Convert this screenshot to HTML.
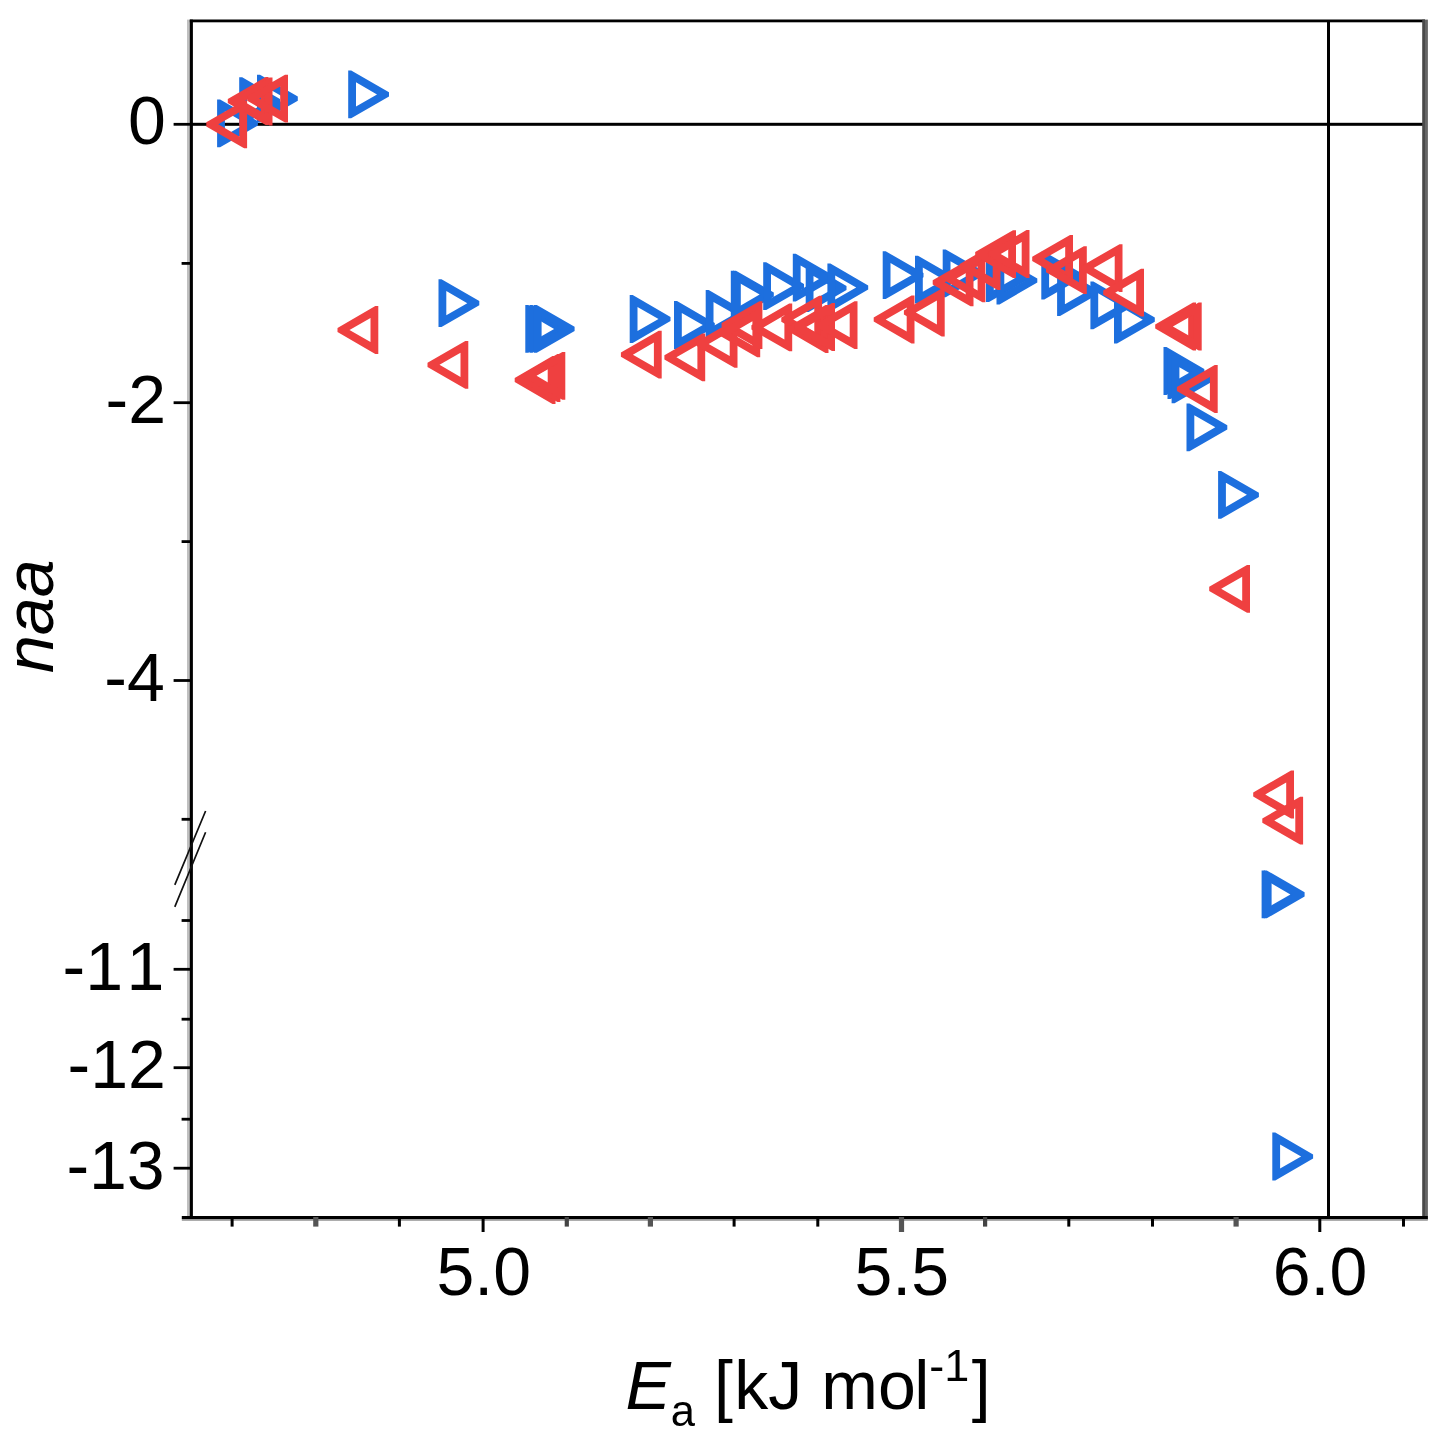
<!DOCTYPE html>
<html><head><meta charset="utf-8"><title>plot</title>
<style>html,body{margin:0;padding:0;background:#fff}svg{display:block}</style></head>
<body>
<svg width="1452" height="1438" viewBox="0 0 1452 1438">
<rect width="1452" height="1438" fill="#fff"/>
<defs><filter id="soft" x="0" y="0" width="100%" height="100%" filterUnits="userSpaceOnUse" color-interpolation-filters="sRGB"><feGaussianBlur stdDeviation="0.7"/></filter></defs>
<g filter="url(#soft)">
<rect width="1452" height="1438" fill="#fff"/>
<rect x="190" y="122.8" width="1234" height="3" fill="#000"/>
<rect x="1327" y="21" width="3" height="1197" fill="#000"/>
<g fill="#1d6fde" fill-rule="evenodd">
<path d="M217.1 99.5L220.1 99.5L257.9 121.3L257.9 125.5L220.1 147.3L217.1 147.3ZM224.9 111.3L245.9 123.4L224.9 135.5Z"/>
<path d="M239.2 77.3L242.2 77.3L280.0 99.1L280.0 103.3L242.2 125.1L239.2 125.1ZM247.0 89.1L268.0 101.2L247.0 113.3Z"/>
<path d="M257.0 74.7L260.0 74.7L297.8 96.5L297.8 100.7L260.0 122.5L257.0 122.5ZM264.8 86.5L285.8 98.6L264.8 110.7Z"/>
<path d="M348.2 70.5L351.2 70.5L389.0 92.3L389.0 96.5L351.2 118.3L348.2 118.3ZM356.0 82.3L377.0 94.4L356.0 106.5Z"/>
<path d="M438.5 279.3L441.5 279.3L479.3 301.1L479.3 305.3L441.5 327.1L438.5 327.1ZM446.3 291.1L467.3 303.2L446.3 315.3Z"/>
<path d="M525.3 305.0L528.3 305.0L566.1 326.8L566.1 331.0L528.3 352.8L525.3 352.8ZM533.1 316.8L554.1 328.9L533.1 341.0Z"/>
<path d="M529.5 305.0L532.5 305.0L570.3 326.8L570.3 331.0L532.5 352.8L529.5 352.8ZM537.3 316.8L558.3 328.9L537.3 341.0Z"/>
<path d="M533.8 305.0L536.8 305.0L574.6 326.8L574.6 331.0L536.8 352.8L533.8 352.8ZM541.6 316.8L562.6 328.9L541.6 341.0Z"/>
<path d="M629.7 295.1L632.7 295.1L670.5 316.9L670.5 321.1L632.7 342.9L629.7 342.9ZM637.5 306.9L658.5 319.0L637.5 331.1Z"/>
<path d="M674.0 301.1L677.0 301.1L714.8 322.9L714.8 327.1L677.0 348.9L674.0 348.9ZM681.8 312.9L702.8 325.0L681.8 337.1Z"/>
<path d="M705.7 290.1L708.7 290.1L746.5 311.9L746.5 316.1L708.7 337.9L705.7 337.9ZM713.5 301.9L734.5 314.0L713.5 326.1Z"/>
<path d="M730.8 270.7L733.8 270.7L771.6 292.5L771.6 296.7L733.8 318.5L730.8 318.5ZM738.6 282.5L759.6 294.6L738.6 306.7Z"/>
<path d="M733.0 270.7L736.0 270.7L773.8 292.5L773.8 296.7L736.0 318.5L733.0 318.5ZM740.8 282.5L761.8 294.6L740.8 306.7Z"/>
<path d="M763.2 262.3L766.2 262.3L804.0 284.1L804.0 288.3L766.2 310.1L763.2 310.1ZM771.0 274.1L792.0 286.2L771.0 298.3Z"/>
<path d="M792.8 253.7L795.8 253.7L833.6 275.5L833.6 279.7L795.8 301.5L792.8 301.5ZM800.6 265.5L821.6 277.6L800.6 289.7Z"/>
<path d="M805.7 264.1L808.7 264.1L846.5 285.9L846.5 290.1L808.7 311.9L805.7 311.9ZM813.5 275.9L834.5 288.0L813.5 300.1Z"/>
<path d="M827.4 263.6L830.4 263.6L868.2 285.4L868.2 289.6L830.4 311.4L827.4 311.4ZM835.2 275.4L856.2 287.5L835.2 299.6Z"/>
<path d="M882.7 251.3L885.7 251.3L923.5 273.1L923.5 277.3L885.7 299.1L882.7 299.1ZM890.5 263.1L911.5 275.2L890.5 287.3Z"/>
<path d="M915.0 255.8L918.0 255.8L955.8 277.6L955.8 281.8L918.0 303.6L915.0 303.6ZM922.8 267.6L943.8 279.7L922.8 291.8Z"/>
<path d="M942.7 249.4L945.7 249.4L983.5 271.2L983.5 275.4L945.7 297.2L942.7 297.2ZM950.5 261.2L971.5 273.3L950.5 285.4Z"/>
<path d="M986.0 254.3L989.0 254.3L1026.8 276.1L1026.8 280.3L989.0 302.1L986.0 302.1ZM993.8 266.1L1014.8 278.2L993.8 290.3Z"/>
<path d="M996.5 256.6L999.5 256.6L1037.3 278.4L1037.3 282.6L999.5 304.4L996.5 304.4ZM1004.3 268.4L1025.3 280.5L1004.3 292.6Z"/>
<path d="M1041.3 251.7L1044.3 251.7L1082.1 273.5L1082.1 277.7L1044.3 299.5L1041.3 299.5ZM1049.1 263.5L1070.1 275.6L1049.1 287.7Z"/>
<path d="M1057.1 268.3L1060.1 268.3L1097.9 290.1L1097.9 294.3L1060.1 316.1L1057.1 316.1ZM1064.9 280.1L1085.9 292.2L1064.9 304.3Z"/>
<path d="M1090.4 281.5L1093.4 281.5L1131.2 303.3L1131.2 307.5L1093.4 329.3L1090.4 329.3ZM1098.2 293.3L1119.2 305.4L1098.2 317.5Z"/>
<path d="M1114.0 295.8L1117.0 295.8L1154.8 317.6L1154.8 321.8L1117.0 343.6L1114.0 343.6ZM1121.8 307.6L1142.8 319.7L1121.8 331.8Z"/>
<path d="M1163.5 347.1L1166.5 347.1L1204.3 368.9L1204.3 373.1L1166.5 394.9L1163.5 394.9ZM1171.3 358.9L1192.3 371.0L1171.3 383.1Z"/>
<path d="M1167.5 351.3L1170.5 351.3L1208.3 373.1L1208.3 377.3L1170.5 399.1L1167.5 399.1ZM1175.3 363.1L1196.3 375.2L1175.3 387.3Z"/>
<path d="M1171.6 355.5L1174.6 355.5L1212.4 377.3L1212.4 381.5L1174.6 403.3L1171.6 403.3ZM1179.4 367.3L1200.4 379.4L1179.4 391.5Z"/>
<path d="M1186.5 403.4L1189.5 403.4L1227.3 425.2L1227.3 429.4L1189.5 451.2L1186.5 451.2ZM1194.3 415.2L1215.3 427.3L1194.3 439.4Z"/>
<path d="M1218.1 470.9L1221.1 470.9L1258.9 492.7L1258.9 496.9L1221.1 518.7L1218.1 518.7ZM1225.9 482.7L1246.9 494.8L1225.9 506.9Z"/>
<path d="M1261.6 870.5L1264.6 870.5L1302.4 892.3L1302.4 896.5L1264.6 918.3L1261.6 918.3ZM1269.4 882.3L1290.4 894.4L1269.4 906.5Z"/>
<path d="M1263.8 870.5L1266.8 870.5L1304.6 892.3L1304.6 896.5L1266.8 918.3L1263.8 918.3ZM1271.6 882.3L1292.6 894.4L1271.6 906.5Z"/>
<path d="M1272.3 1132.6L1275.3 1132.6L1313.1 1154.4L1313.1 1158.6L1275.3 1180.4L1272.3 1180.4ZM1280.1 1144.4L1301.1 1156.5L1280.1 1168.6Z"/>
</g>
<g fill="#ef4040" fill-rule="evenodd">
<path d="M247.1 100.4L244.1 100.4L206.3 122.2L206.3 126.4L244.1 148.2L247.1 148.2ZM239.3 112.2L218.3 124.3L239.3 136.4Z"/>
<path d="M268.6 77.1L265.6 77.1L227.8 98.9L227.8 103.1L265.6 124.9L268.6 124.9ZM260.8 88.9L239.8 101.0L260.8 113.1Z"/>
<path d="M272.5 77.6L269.5 77.6L231.7 99.4L231.7 103.6L269.5 125.4L272.5 125.4ZM264.7 89.4L243.7 101.5L264.7 113.6Z"/>
<path d="M288.0 74.7L285.0 74.7L247.2 96.5L247.2 100.7L285.0 122.5L288.0 122.5ZM280.2 86.5L259.2 98.6L280.2 110.7Z"/>
<path d="M378.3 306.1L375.3 306.1L337.5 327.9L337.5 332.1L375.3 353.9L378.3 353.9ZM370.5 317.9L349.5 330.0L370.5 342.1Z"/>
<path d="M468.3 340.9L465.3 340.9L427.5 362.7L427.5 366.9L465.3 388.7L468.3 388.7ZM460.5 352.7L439.5 364.8L460.5 376.9Z"/>
<path d="M555.5 356.1L552.5 356.1L514.7 377.9L514.7 382.1L552.5 403.9L555.5 403.9ZM547.7 367.9L526.7 380.0L547.7 392.1Z"/>
<path d="M560.4 354.1L557.4 354.1L519.6 375.9L519.6 380.1L557.4 401.9L560.4 401.9ZM552.6 365.9L531.6 378.0L552.6 390.1Z"/>
<path d="M565.3 351.9L562.3 351.9L524.5 373.7L524.5 377.9L562.3 399.7L565.3 399.7ZM557.5 363.7L536.5 375.8L557.5 387.9Z"/>
<path d="M661.7 330.8L658.7 330.8L620.9 352.6L620.9 356.8L658.7 378.6L661.7 378.6ZM653.9 342.6L632.9 354.7L653.9 366.8Z"/>
<path d="M705.2 333.4L702.2 333.4L664.4 355.2L664.4 359.4L702.2 381.2L705.2 381.2ZM697.4 345.2L676.4 357.3L697.4 369.4Z"/>
<path d="M737.5 320.0L734.5 320.0L696.7 341.8L696.7 346.0L734.5 367.8L737.5 367.8ZM729.7 331.8L708.7 343.9L729.7 356.0Z"/>
<path d="M762.4 301.2L759.4 301.2L721.6 323.0L721.6 327.2L759.4 349.0L762.4 349.0ZM754.6 313.0L733.6 325.1L754.6 337.2Z"/>
<path d="M760.2 309.5L757.2 309.5L719.4 331.3L719.4 335.5L757.2 357.3L760.2 357.3ZM752.4 321.3L731.4 333.4L752.4 345.5Z"/>
<path d="M792.2 303.5L789.2 303.5L751.4 325.3L751.4 329.5L789.2 351.3L792.2 351.3ZM784.4 315.3L763.4 327.4L784.4 339.5Z"/>
<path d="M822.1 295.7L819.1 295.7L781.3 317.5L781.3 321.7L819.1 343.5L822.1 343.5ZM814.3 307.5L793.3 319.6L814.3 331.7Z"/>
<path d="M828.5 305.1L825.5 305.1L787.7 326.9L787.7 331.1L825.5 352.9L828.5 352.9ZM820.7 316.9L799.7 329.0L820.7 341.1Z"/>
<path d="M835.0 303.1L832.0 303.1L794.2 324.9L794.2 329.1L832.0 350.9L835.0 350.9ZM827.2 314.9L806.2 327.0L827.2 339.1Z"/>
<path d="M857.5 301.3L854.5 301.3L816.7 323.1L816.7 327.3L854.5 349.1L857.5 349.1ZM849.7 313.1L828.7 325.2L849.7 337.3Z"/>
<path d="M914.5 295.6L911.5 295.6L873.7 317.4L873.7 321.6L911.5 343.4L914.5 343.4ZM906.7 307.4L885.7 319.5L906.7 331.6Z"/>
<path d="M944.7 288.6L941.7 288.6L903.9 310.4L903.9 314.6L941.7 336.4L944.7 336.4ZM936.9 300.4L915.9 312.5L936.9 324.6Z"/>
<path d="M973.5 258.4L970.5 258.4L932.7 280.2L932.7 284.4L970.5 306.2L973.5 306.2ZM965.7 270.2L944.7 282.3L965.7 294.4Z"/>
<path d="M985.4 254.5L982.4 254.5L944.6 276.3L944.6 280.5L982.4 302.3L985.4 302.3ZM977.6 266.3L956.6 278.4L977.6 290.5Z"/>
<path d="M1000.5 242.1L997.5 242.1L959.7 263.9L959.7 268.1L997.5 289.9L1000.5 289.9ZM992.7 253.9L971.7 266.0L992.7 278.1Z"/>
<path d="M1016.0 230.3L1013.0 230.3L975.2 252.1L975.2 256.3L1013.0 278.1L1016.0 278.1ZM1008.2 242.1L987.2 254.2L1008.2 266.3Z"/>
<path d="M1029.5 230.1L1026.5 230.1L988.7 251.9L988.7 256.1L1026.5 277.9L1029.5 277.9ZM1021.7 241.9L1000.7 254.0L1021.7 266.1Z"/>
<path d="M1073.0 234.9L1070.0 234.9L1032.2 256.7L1032.2 260.9L1070.0 282.7L1073.0 282.7ZM1065.2 246.7L1044.2 258.8L1065.2 270.9Z"/>
<path d="M1086.8 246.3L1083.8 246.3L1046.0 268.1L1046.0 272.3L1083.8 294.1L1086.8 294.1ZM1079.0 258.1L1058.0 270.2L1079.0 282.3Z"/>
<path d="M1122.5 244.2L1119.5 244.2L1081.7 266.0L1081.7 270.2L1119.5 292.0L1122.5 292.0ZM1114.7 256.0L1093.7 268.1L1114.7 280.2Z"/>
<path d="M1144.0 268.8L1141.0 268.8L1103.2 290.6L1103.2 294.8L1141.0 316.6L1144.0 316.6ZM1136.2 280.6L1115.2 292.7L1136.2 304.8Z"/>
<path d="M1196.0 302.6L1193.0 302.6L1155.2 324.4L1155.2 328.6L1193.0 350.4L1196.0 350.4ZM1188.2 314.4L1167.2 326.5L1188.2 338.6Z"/>
<path d="M1201.7 302.6L1198.7 302.6L1160.9 324.4L1160.9 328.6L1198.7 350.4L1201.7 350.4ZM1193.9 314.4L1172.9 326.5L1193.9 338.6Z"/>
<path d="M1217.7 365.1L1214.7 365.1L1176.9 386.9L1176.9 391.1L1214.7 412.9L1217.7 412.9ZM1209.9 376.9L1188.9 389.0L1209.9 401.1Z"/>
<path d="M1250.0 564.9L1247.0 564.9L1209.2 586.7L1209.2 590.9L1247.0 612.7L1250.0 612.7ZM1242.2 576.7L1221.2 588.8L1242.2 600.9Z"/>
<path d="M1294.0 770.6L1291.0 770.6L1253.2 792.4L1253.2 796.6L1291.0 818.4L1294.0 818.4ZM1286.2 782.4L1265.2 794.5L1286.2 806.6Z"/>
<path d="M1303.1 796.7L1300.1 796.7L1262.3 818.5L1262.3 822.7L1300.1 844.5L1303.1 844.5ZM1295.3 808.5L1274.3 820.6L1295.3 832.7Z"/>
</g>
<rect x="187" y="19.6" width="3" height="1200.4" fill="#c0c0c0"/>
<rect x="189.8" y="19.6" width="3.1" height="1200.4" fill="#000"/>
<rect x="189.8" y="19.5" width="1235.2" height="2.8" fill="#000"/>
<rect x="1422.2" y="19.6" width="2.8" height="1200.4" fill="#4a4a4a"/>
<rect x="1425" y="19.6" width="2.9" height="1200.4" fill="#666"/>
<rect x="181.8" y="1218.6" width="1246" height="2.2" fill="#9a9a9a"/>
<rect x="181.8" y="1216" width="1246" height="3" fill="#000"/>
<rect x="173.6" y="122.9" width="17" height="2.8" fill="#000"/>
<rect x="173.6" y="401.3" width="17" height="2.8" fill="#000"/>
<rect x="173.6" y="679.1" width="17" height="2.8" fill="#000"/>
<rect x="173.6" y="967.9" width="17" height="2.8" fill="#000"/>
<rect x="173.6" y="1066.3" width="17" height="2.8" fill="#000"/>
<rect x="173.6" y="1166.8" width="17" height="2.8" fill="#000"/>
<rect x="181.6" y="262.0" width="9" height="2.8" fill="#000"/>
<rect x="181.6" y="540.2" width="9" height="2.8" fill="#000"/>
<rect x="181.6" y="817.9" width="9" height="2.8" fill="#000"/>
<rect x="181.6" y="919.1" width="9" height="2.8" fill="#000"/>
<rect x="181.6" y="1017.8" width="9" height="2.8" fill="#000"/>
<rect x="181.6" y="1117.8" width="9" height="2.8" fill="#000"/>
<rect x="230.6" y="1217" width="3" height="9.6" fill="#000"/>
<rect x="313.2" y="1217" width="5.2" height="9.6" fill="#555"/>
<rect x="397.9" y="1217" width="3" height="9.6" fill="#000"/>
<rect x="481.6" y="1217" width="3" height="15.0" fill="#000"/>
<rect x="564.7" y="1217" width="4.2" height="9.6" fill="#444"/>
<rect x="647.8" y="1217" width="5.2" height="9.6" fill="#555"/>
<rect x="732.6" y="1217" width="3" height="9.6" fill="#000"/>
<rect x="816.3" y="1217" width="3" height="9.6" fill="#000"/>
<rect x="898.9" y="1217" width="5.2" height="15.0" fill="#555"/>
<rect x="983.0" y="1217" width="4.2" height="9.6" fill="#444"/>
<rect x="1067.3" y="1217" width="3" height="9.6" fill="#000"/>
<rect x="1151.0" y="1217" width="3" height="9.6" fill="#000"/>
<rect x="1233.5" y="1217" width="5.2" height="9.6" fill="#555"/>
<rect x="1318.3" y="1217" width="3" height="15.0" fill="#000"/>
<rect x="1402.0" y="1217" width="3" height="9.6" fill="#000"/>
<path d="M205.6 811L174.8 884.8M205.6 832.3L174.8 906.9" stroke="#111" stroke-width="1.7" fill="none"/>
<g font-family="'Liberation Sans', Arial, sans-serif" font-size="68" fill="#000">
<text x="165.8" y="143.9" text-anchor="end">0</text>
<text x="166" y="423.1" text-anchor="end">-2</text>
<text x="164.8" y="700.9" text-anchor="end">-4</text>
<text x="62.5 85.2 126.5" y="989.8">-11</text>
<text x="165.8" y="1087.8" text-anchor="end">-12</text>
<text x="164.7" y="1188.8" text-anchor="end">-13</text>
<text x="483.7" y="1295" text-anchor="middle">5.0</text>
<text x="901.8" y="1295" text-anchor="middle">5.5</text>
<text x="1320.0" y="1295" text-anchor="middle">6.0</text>
<text x="625.5" y="1409"><tspan font-style="italic">E</tspan><tspan font-size="43.5" dy="17">a</tspan><tspan dy="-17"> [</tspan><tspan dx="1.5">kJ mo</tspan><tspan dx="-1.5">l</tspan><tspan font-size="45" dy="-28">-1</tspan><tspan dy="28" dx="2.5">]</tspan></text>
<text transform="translate(53.3,673) rotate(-90)" font-style="italic">naa</text>
</g>
</g>
</svg>
</body></html>
